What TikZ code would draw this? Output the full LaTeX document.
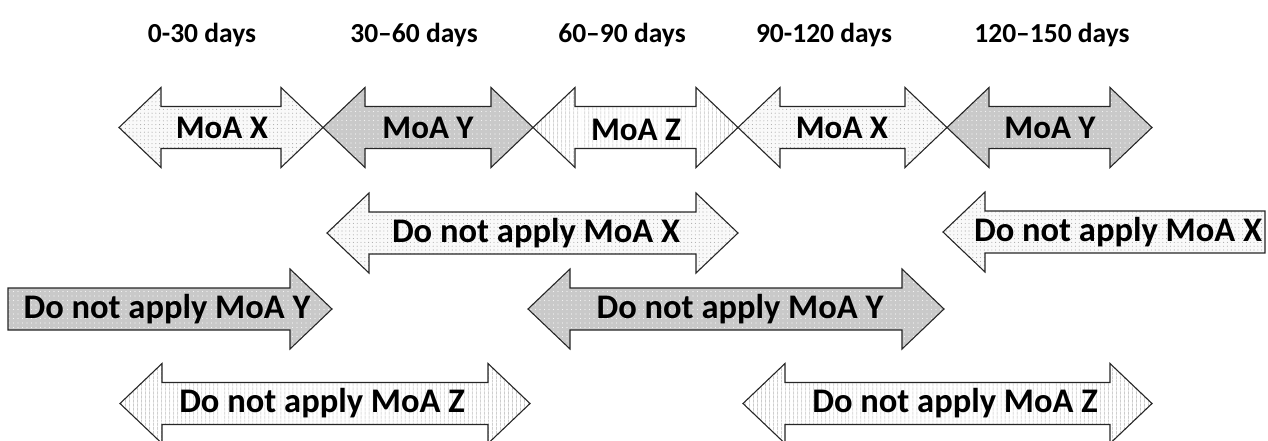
\documentclass[tikz,border=0pt]{standalone}
\usepackage{fontspec}
\setmainfont{Carlito}
\usetikzlibrary{patterns.meta}
\tikzset{
  outl/.style={draw=black!85, line width=1.1pt, line join=miter},
  mx/.style={outl, preaction={fill=gray!5}, pattern={Dots[distance=3.8pt, radius=0.55pt]}, pattern color=gray!65},
  my/.style={outl, preaction={fill=gray!42}, pattern={Dots[distance=4.5pt, radius=0.7pt]}, pattern color=white!92!gray},
  mz/.style={outl, preaction={fill=white}, pattern={Lines[angle=90, distance=4pt, line width=0.55pt]}, pattern color=gray!70},
  lbl/.style={font=\bfseries\fontsize{33}{36}\selectfont, inner sep=0pt},
  lblw/.style={font=\bfseries\fontsize{34.5}{38}\selectfont, inner sep=0pt},
  hdr/.style={font=\bfseries\fontsize{27.5}{30}\selectfont, inner sep=0pt}
}
% double arrow: left tip x, right tip x, centre y, style
\newcommand\dblarr[4]{%
  \path[#4] (#1,#3) -- ({#1+42},{#3-40}) -- ({#1+42},{#3-21}) -- ({#2-42},{#3-21}) -- ({#2-42},{#3-40}) -- (#2,#3)
   -- ({#2-42},{#3+40}) -- ({#2-42},{#3+21}) -- ({#1+42},{#3+21}) -- ({#1+42},{#3+40}) -- cycle;}
% right arrow: left end x, tip x, centre y, style
\newcommand\rarr[4]{%
  \path[#4] (#1,{#3-21}) -- ({#2-42},{#3-21}) -- ({#2-42},{#3-40}) -- (#2,#3)
   -- ({#2-42},{#3+40}) -- ({#2-42},{#3+21}) -- (#1,{#3+21}) -- cycle;}
% left arrow: tip x, right end x, centre y, style
\newcommand\larr[4]{%
  \path[#4] (#1,#3) -- ({#1+42},{#3-40}) -- ({#1+42},{#3-21}) -- (#2,{#3-21}) -- (#2,{#3+21})
   -- ({#1+42},{#3+21}) -- ({#1+42},{#3+40}) -- cycle;}
\begin{document}
\begin{tikzpicture}[x=1pt,y=-1pt]
\useasboundingbox (0,0) rectangle (1268,440);
% headers
\node[hdr] (h1) at (202,35) {0-30 days};
\node[hdr] (h2) at (414,35) {30–60 days};
\node[hdr] (h3) at (622,35) {60–90 days};
\node[hdr] (h4) at (824,35) {90-120 days};
\node[hdr] (h5) at (1052,35) {120–150 days};
% top row
\dblarr{119}{323}{127.5}{mx}
\dblarr{323}{533}{127.5}{my}
\dblarr{533}{738}{127.5}{mz}
\dblarr{738}{947}{127.5}{mx}
\dblarr{947}{1152}{127.5}{my}
\node[lbl] (a1) at (222,128) {MoA X};
\node[lbl] (a2) at (428,128) {MoA Y};
\node[lbl] (a3) at (636,130) {MoA Z};
\node[lbl] (a4) at (842,128) {MoA X};
\node[lbl] (a5) at (1050,128) {MoA Y};
% row 2
\dblarr{327}{738}{233}{mx}
\larr{943}{1265}{232}{mx}
\node[lblw] (b1) at (536,233) {Do not apply MoA X};
\node[lblw] (b2) at (1118,232) {Do not apply MoA X};
% row 3
\rarr{8}{332}{309}{my}
\dblarr{528}{944}{309}{my}
\node[lblw] (c1) at (167,309) {Do not apply MoA Y};
\node[lblw] (c2) at (740,309) {Do not apply MoA Y};
% row 4
\dblarr{120}{530}{403.5}{mz}
\dblarr{743}{1152}{403.5}{mz}
\node[lblw] (d1) at (322,403) {Do not apply MoA Z};
\node[lblw] (d2) at (955,403) {Do not apply MoA Z};
\end{tikzpicture}
\end{document}
